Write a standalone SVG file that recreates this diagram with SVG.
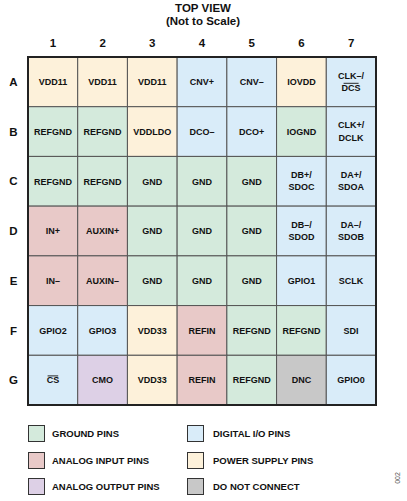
<svg xmlns="http://www.w3.org/2000/svg" width="407" height="501" viewBox="0 0 407 501">
<style>
text{font-family:"Liberation Sans",Arial,sans-serif;font-weight:bold;fill:#111}
.c{font-size:9px;text-anchor:middle}
.h{font-size:11.5px;text-anchor:middle}
.t{font-size:11.5px;text-anchor:middle}
.l{font-size:9.5px}
.cell{stroke:#555;stroke-width:1}
.g{fill:#d4eadc}.d{fill:#d9ecf9}.p{fill:#fdf1da}.a{fill:#e8c9c8}.o{fill:#ddd0e6}.n{fill:#c8c8c8}
.sw{stroke:#333;stroke-width:1}
.ob{stroke:#111;stroke-width:0.9}
</style>
<rect width="407" height="501" fill="#fff"/>
<g id="title">
<text class="t" x="203" y="12">TOP VIEW</text>
<text class="t" x="203" y="24.5">(Not to Scale)</text>
</g>
<g id="colnums">
<text class="h" x="52.9" y="47">1</text>
<text class="h" x="102.6" y="47">2</text>
<text class="h" x="152.3" y="47">3</text>
<text class="h" x="202" y="47">4</text>
<text class="h" x="251.7" y="47">5</text>
<text class="h" x="301.4" y="47">6</text>
<text class="h" x="351.1" y="47">7</text>
</g>
<g id="rowletters">
<text class="h" x="13.5" y="86">A</text>
<text class="h" x="13.5" y="135.7">B</text>
<text class="h" x="13.5" y="185.4">C</text>
<text class="h" x="13.5" y="235.1">D</text>
<text class="h" x="13.5" y="284.8">E</text>
<text class="h" x="13.5" y="334.5">F</text>
<text class="h" x="13.5" y="384.2">G</text>
</g>
<g id="row-A">
<rect class="cell p" x="28" y="57" width="49.71" height="49.71"/><text class="c" x="52.9" y="85.2">VDD11</text>
<rect class="cell p" x="77.71" y="57" width="49.71" height="49.71"/><text class="c" x="102.6" y="85.2">VDD11</text>
<rect class="cell p" x="127.43" y="57" width="49.71" height="49.71"/><text class="c" x="152.3" y="85.2">VDD11</text>
<rect class="cell d" x="177.14" y="57" width="49.71" height="49.71"/><text class="c" x="202" y="85.2">CNV+</text>
<rect class="cell d" x="226.86" y="57" width="49.71" height="49.71"/><text class="c" x="251.7" y="85.2">CNV–</text>
<rect class="cell p" x="276.57" y="57" width="49.71" height="49.71"/><text class="c" x="301.4" y="85.2">IOVDD</text>
<rect class="cell d" x="326.29" y="57" width="49.71" height="49.71"/><text class="c" x="351.1" y="78.5">CLK–/</text><text class="c" x="351.1" y="91">DCS</text><line class="ob" x1="343.6" y1="83.3" x2="358.6" y2="83.3"/>
</g>
<g id="row-B">
<rect class="cell g" x="28" y="106.71" width="49.71" height="49.71"/><text class="c" x="52.9" y="134.9">REFGND</text>
<rect class="cell g" x="77.71" y="106.71" width="49.71" height="49.71"/><text class="c" x="102.6" y="134.9">REFGND</text>
<rect class="cell p" x="127.43" y="106.71" width="49.71" height="49.71"/><text class="c" x="152.3" y="134.9">VDDLDO</text>
<rect class="cell d" x="177.14" y="106.71" width="49.71" height="49.71"/><text class="c" x="202" y="134.9">DCO–</text>
<rect class="cell d" x="226.86" y="106.71" width="49.71" height="49.71"/><text class="c" x="251.7" y="134.9">DCO+</text>
<rect class="cell g" x="276.57" y="106.71" width="49.71" height="49.71"/><text class="c" x="301.4" y="134.9">IOGND</text>
<rect class="cell d" x="326.29" y="106.71" width="49.71" height="49.71"/><text class="c" x="351.1" y="128.2">CLK+/</text><text class="c" x="351.1" y="140.7">DCLK</text>
</g>
<g id="row-C">
<rect class="cell g" x="28" y="156.43" width="49.71" height="49.71"/><text class="c" x="52.9" y="184.6">REFGND</text>
<rect class="cell g" x="77.71" y="156.43" width="49.71" height="49.71"/><text class="c" x="102.6" y="184.6">REFGND</text>
<rect class="cell g" x="127.43" y="156.43" width="49.71" height="49.71"/><text class="c" x="152.3" y="184.6">GND</text>
<rect class="cell g" x="177.14" y="156.43" width="49.71" height="49.71"/><text class="c" x="202" y="184.6">GND</text>
<rect class="cell g" x="226.86" y="156.43" width="49.71" height="49.71"/><text class="c" x="251.7" y="184.6">GND</text>
<rect class="cell d" x="276.57" y="156.43" width="49.71" height="49.71"/><text class="c" x="301.4" y="177.9">DB+/</text><text class="c" x="301.4" y="190.4">SDOC</text>
<rect class="cell d" x="326.29" y="156.43" width="49.71" height="49.71"/><text class="c" x="351.1" y="177.9">DA+/</text><text class="c" x="351.1" y="190.4">SDOA</text>
</g>
<g id="row-D">
<rect class="cell a" x="28" y="206.14" width="49.71" height="49.71"/><text class="c" x="52.9" y="234.3">IN+</text>
<rect class="cell a" x="77.71" y="206.14" width="49.71" height="49.71"/><text class="c" x="102.6" y="234.3">AUXIN+</text>
<rect class="cell g" x="127.43" y="206.14" width="49.71" height="49.71"/><text class="c" x="152.3" y="234.3">GND</text>
<rect class="cell g" x="177.14" y="206.14" width="49.71" height="49.71"/><text class="c" x="202" y="234.3">GND</text>
<rect class="cell g" x="226.86" y="206.14" width="49.71" height="49.71"/><text class="c" x="251.7" y="234.3">GND</text>
<rect class="cell d" x="276.57" y="206.14" width="49.71" height="49.71"/><text class="c" x="301.4" y="227.6">DB–/</text><text class="c" x="301.4" y="240.1">SDOD</text>
<rect class="cell d" x="326.29" y="206.14" width="49.71" height="49.71"/><text class="c" x="351.1" y="227.6">DA–/</text><text class="c" x="351.1" y="240.1">SDOB</text>
</g>
<g id="row-E">
<rect class="cell a" x="28" y="255.86" width="49.71" height="49.71"/><text class="c" x="52.9" y="284">IN–</text>
<rect class="cell a" x="77.71" y="255.86" width="49.71" height="49.71"/><text class="c" x="102.6" y="284">AUXIN–</text>
<rect class="cell g" x="127.43" y="255.86" width="49.71" height="49.71"/><text class="c" x="152.3" y="284">GND</text>
<rect class="cell g" x="177.14" y="255.86" width="49.71" height="49.71"/><text class="c" x="202" y="284">GND</text>
<rect class="cell g" x="226.86" y="255.86" width="49.71" height="49.71"/><text class="c" x="251.7" y="284">GND</text>
<rect class="cell d" x="276.57" y="255.86" width="49.71" height="49.71"/><text class="c" x="301.4" y="284">GPIO1</text>
<rect class="cell d" x="326.29" y="255.86" width="49.71" height="49.71"/><text class="c" x="351.1" y="284">SCLK</text>
</g>
<g id="row-F">
<rect class="cell d" x="28" y="305.57" width="49.71" height="49.71"/><text class="c" x="52.9" y="333.7">GPIO2</text>
<rect class="cell d" x="77.71" y="305.57" width="49.71" height="49.71"/><text class="c" x="102.6" y="333.7">GPIO3</text>
<rect class="cell p" x="127.43" y="305.57" width="49.71" height="49.71"/><text class="c" x="152.3" y="333.7">VDD33</text>
<rect class="cell a" x="177.14" y="305.57" width="49.71" height="49.71"/><text class="c" x="202" y="333.7">REFIN</text>
<rect class="cell g" x="226.86" y="305.57" width="49.71" height="49.71"/><text class="c" x="251.7" y="333.7">REFGND</text>
<rect class="cell g" x="276.57" y="305.57" width="49.71" height="49.71"/><text class="c" x="301.4" y="333.7">REFGND</text>
<rect class="cell d" x="326.29" y="305.57" width="49.71" height="49.71"/><text class="c" x="351.1" y="333.7">SDI</text>
</g>
<g id="row-G">
<rect class="cell d" x="28" y="355.29" width="49.71" height="49.71"/><text class="c" x="52.9" y="383.4">CS</text><line class="ob" x1="47.6" y1="375.9" x2="58.2" y2="375.9"/>
<rect class="cell o" x="77.71" y="355.29" width="49.71" height="49.71"/><text class="c" x="102.6" y="383.4">CMO</text>
<rect class="cell p" x="127.43" y="355.29" width="49.71" height="49.71"/><text class="c" x="152.3" y="383.4">VDD33</text>
<rect class="cell a" x="177.14" y="355.29" width="49.71" height="49.71"/><text class="c" x="202" y="383.4">REFIN</text>
<rect class="cell g" x="226.86" y="355.29" width="49.71" height="49.71"/><text class="c" x="251.7" y="383.4">REFGND</text>
<rect class="cell n" x="276.57" y="355.29" width="49.71" height="49.71"/><text class="c" x="301.4" y="383.4">DNC</text>
<rect class="cell d" x="326.29" y="355.29" width="49.71" height="49.71"/><text class="c" x="351.1" y="383.4">GPIO0</text>
</g>
<g id="grid-border">
<rect x="28" y="57" width="348" height="348" fill="none" stroke="#222" stroke-width="2"/>
</g>
<g id="legend">
<rect class="sw g" x="28.5" y="425.5" width="16" height="16"/><text class="l" x="52" y="437">GROUND PINS</text>
<rect class="sw a" x="28.5" y="452.5" width="16" height="16"/><text class="l" x="52" y="464">ANALOG INPUT PINS</text>
<rect class="sw o" x="28.5" y="478.5" width="16" height="16"/><text class="l" x="52" y="490">ANALOG OUTPUT PINS</text>
<rect class="sw d" x="187.5" y="425.5" width="16" height="16"/><text class="l" x="213" y="437">DIGITAL I/O PINS</text>
<rect class="sw p" x="187.5" y="452.5" width="16" height="16"/><text class="l" x="213" y="464">POWER SUPPLY PINS</text>
<rect class="sw n" x="187.5" y="478.5" width="16" height="16"/><text class="l" x="213" y="490">DO NOT CONNECT</text>
</g>
<text x="400" y="478" transform="rotate(-90 400 478)" style="font-size:7px;font-weight:normal;fill:#555;text-anchor:middle">002</text>
</svg>
